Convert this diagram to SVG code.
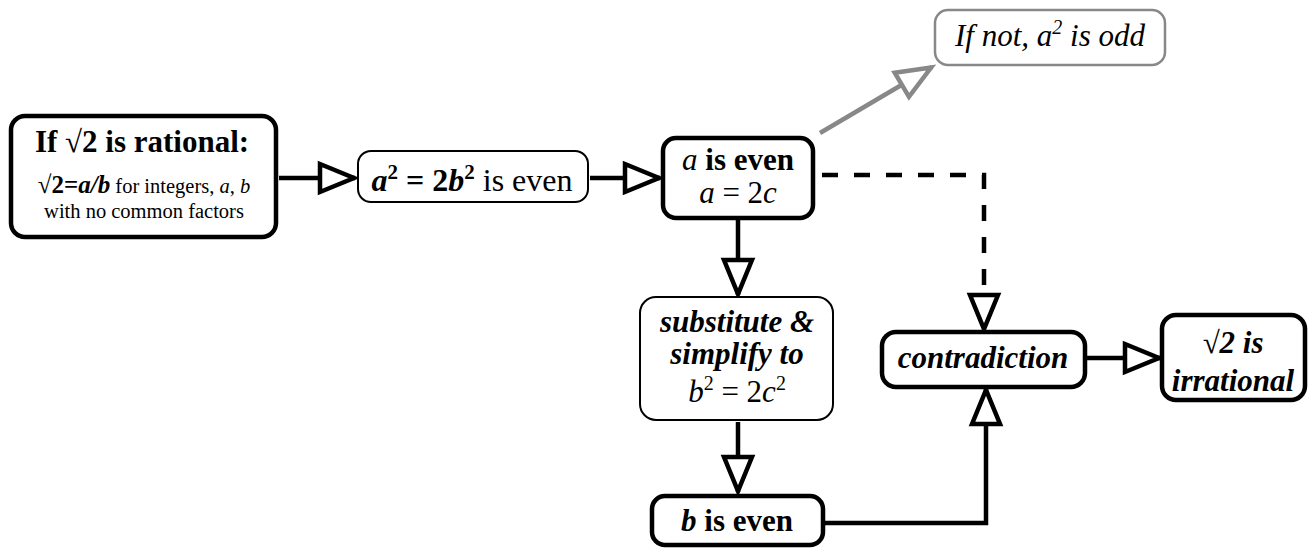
<svg xmlns="http://www.w3.org/2000/svg" width="1313" height="556" viewBox="0 0 1313 556">
<style>
.thick{fill:#fff;stroke:#000;stroke-width:4.5}
.thin{fill:#fff;stroke:#000;stroke-width:2}
.gray{fill:#fff;stroke:#888;stroke-width:2.5}
.conn{fill:none;stroke:#000;stroke-width:4.5}
</style>
<defs>
<marker id="ah" markerUnits="userSpaceOnUse" viewBox="0 0 42 34" markerWidth="42" markerHeight="34" refX="38" refY="17" orient="auto" overflow="visible">
<path d="M3,3 L37,17 L3,31 Z" fill="#fff" stroke="#000" stroke-width="4.5" stroke-dasharray="none"/>
</marker>
<marker id="ahg" markerUnits="userSpaceOnUse" viewBox="0 0 42 34" markerWidth="42" markerHeight="34" refX="38" refY="17" orient="auto" overflow="visible">
<path d="M3,3 L37,17 L3,31 Z" fill="#fff" stroke="#888" stroke-width="4.5"/>
</marker>
</defs>
<g id="connectors">
<path class="conn" d="M279,178 H355" marker-end="url(#ah)"/>
<path class="conn" d="M590,178 H660" marker-end="url(#ah)"/>
<path class="conn" d="M738,220 V295" marker-end="url(#ah)"/>
<path class="conn" d="M738,422 V492" marker-end="url(#ah)"/>
<path class="conn" d="M825,523 H986 V389" marker-end="url(#ah)"/>
<path class="conn" d="M822,175 H984 V330" stroke-dasharray="16,16" marker-end="url(#ah)"/>
<path class="conn" d="M1087,358 H1160" marker-end="url(#ah)"/>
<path d="M820,133 L932,67" fill="none" stroke="#888" stroke-width="4.5" marker-end="url(#ahg)"/>
</g>
<g id="n1">
<rect class="thick" x="11" y="116" width="265" height="121" rx="14"/>
<text x="142" y="152" font-family="Liberation Serif" text-anchor="middle" font-size="31" font-weight="bold">If √2 is rational:</text>
<text x="144" y="193" font-family="Liberation Serif" text-anchor="middle" font-size="20.5"><tspan font-weight="bold" font-size="25">√2=</tspan><tspan font-weight="bold" font-style="italic" font-size="25">a/b</tspan> for integers, <tspan font-style="italic">a</tspan>, <tspan font-style="italic">b</tspan></text>
<text x="144" y="218" font-family="Liberation Serif" text-anchor="middle" font-size="20.5">with no common factors</text>
</g>
<g id="n2">
<rect class="thin" x="358" y="151" width="230" height="51" rx="13"/>
<text x="472" y="191" font-family="Liberation Serif" text-anchor="middle" font-size="32"><tspan font-weight="bold" font-style="italic">a</tspan><tspan font-weight="bold" font-size="21" dy="-12">2</tspan><tspan font-weight="bold" dy="12"> = 2</tspan><tspan font-weight="bold" font-style="italic">b</tspan><tspan font-weight="bold" font-size="21" dy="-12">2</tspan><tspan dy="12"> is even</tspan></text>
</g>
<g id="n3">
<rect class="thick" x="663" y="138" width="150" height="80" rx="13"/>
<text x="738" y="170" font-family="Liberation Serif" text-anchor="middle" font-size="31"><tspan font-style="italic">a</tspan><tspan font-weight="bold"> is even</tspan></text>
<text x="738" y="203" font-family="Liberation Serif" text-anchor="middle" font-size="31"><tspan font-style="italic">a</tspan> = 2<tspan font-style="italic">c</tspan></text>
</g>
<g id="n4">
<rect class="gray" x="935" y="10" width="230" height="55" rx="13"/>
<text x="1050" y="46" font-family="Liberation Serif" text-anchor="middle" font-size="31" font-style="italic">If not, a<tspan font-size="20" dy="-12">2</tspan><tspan dy="12"> is odd</tspan></text>
</g>
<g id="n5">
<rect class="thin" x="640" y="297" width="193" height="123" rx="16"/>
<text x="737" y="332" font-family="Liberation Serif" text-anchor="middle" font-size="31" font-weight="bold" font-style="italic">substitute &amp;</text>
<text x="737" y="364" font-family="Liberation Serif" text-anchor="middle" font-size="31" font-weight="bold" font-style="italic">simplify to</text>
<text x="737" y="402" font-family="Liberation Serif" text-anchor="middle" font-size="31"><tspan font-style="italic">b</tspan><tspan font-size="20" dy="-12">2</tspan><tspan dy="12"> = 2</tspan><tspan font-style="italic">c</tspan><tspan font-size="20" dy="-12">2</tspan></text>
</g>
<g id="n6">
<rect class="thick" x="652" y="496" width="171" height="49" rx="13"/>
<text x="737" y="531" font-family="Liberation Serif" text-anchor="middle" font-size="31"><tspan font-weight="bold" font-style="italic">b</tspan><tspan font-weight="bold"> is even</tspan></text>
</g>
<g id="n7">
<rect class="thick" x="882" y="332" width="203" height="55" rx="14"/>
<text x="983" y="368" font-family="Liberation Serif" text-anchor="middle" font-size="31" font-weight="bold" font-style="italic">contradiction</text>
</g>
<g id="n8">
<rect class="thick" x="1162" y="315" width="143" height="85" rx="14"/>
<text x="1233" y="353" font-family="Liberation Serif" text-anchor="middle" font-size="31" font-weight="bold" font-style="italic">√2 is</text>
<text x="1233" y="391" font-family="Liberation Serif" text-anchor="middle" font-size="31" font-weight="bold" font-style="italic">irrational</text>
</g>
</svg>
